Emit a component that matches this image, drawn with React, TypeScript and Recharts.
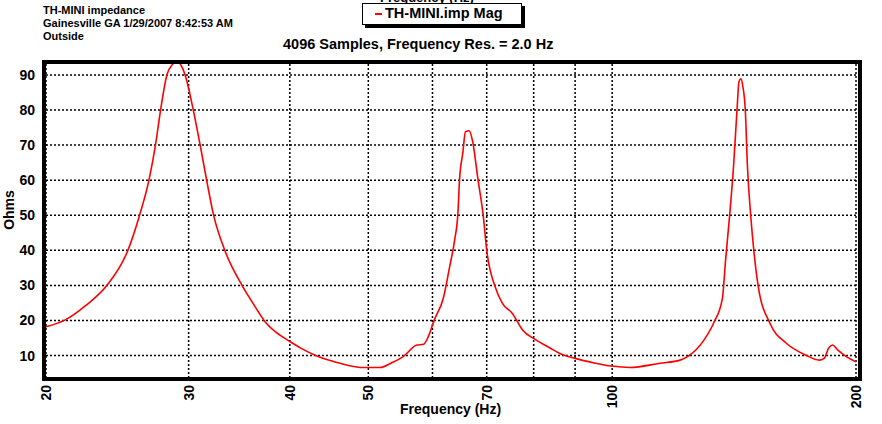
import React from "react";
import {
  LineChart,
  Line,
  XAxis,
  YAxis,
  CartesianGrid,
  ReferenceLine,
} from "recharts";

// impedance sweep (Hz -> ohms)
const freqs = [
  20.0, 21.1, 22.4, 23.8, 25.2, 26.1, 26.8, 27.3, 27.7, 28.2, 28.7, 29.0, 29.4,
  29.7, 30.4, 31.0, 31.6, 32.2, 33.3, 34.9, 36.0, 37.3, 38.9, 40.0, 41.2, 43.2,
  45.0, 47.0, 49.3, 51.7, 53.5, 55.2, 57.4, 58.5, 59.3, 60.3, 61.9, 63.0, 63.9,
  64.5, 64.8, 65.4, 65.9, 66.6, 67.2, 68.3, 69.3, 70.0, 71.7, 73.2, 75.3, 77.5,
  80.6, 83.9, 86.2, 90.0, 95.0, 99.8, 105.2, 114.5, 121.3, 124.3, 129.8, 133.4,
  136.8, 138.0, 139.6, 141.2, 142.6, 143.4, 144.2, 145.0, 146.0, 146.9, 148.3,
  149.7, 151.5, 156.6, 164.1, 173.5, 180.1, 182.7, 185.0, 187.1, 189.8, 194.6,
  200.0,
];
const ohms = [
  18.2, 20.1, 24.3, 30.1, 39.6, 50.1, 60.0, 70.0, 80.0, 90.0, 93.2, 94.0, 92.5,
  90.0, 80.0, 70.0, 59.6, 50.1, 39.6, 30.1, 25.0, 19.6, 15.8, 14.0, 12.2, 9.9,
  8.5, 7.3, 6.6, 6.6, 8.0, 9.7, 13.0, 13.2, 15.4, 20.1, 26.5, 35.3, 42.9, 50.6,
  60.1, 67.7, 73.8, 74.1, 71.5, 60.1, 50.1, 40.1, 29.6, 24.9, 22.0, 17.3, 14.4,
  12.1, 10.6, 9.2, 7.9, 7.0, 6.6, 7.8, 8.7, 9.9, 14.4, 19.2, 26.3, 36.8, 49.6,
  63.9, 80.0, 88.1, 88.9, 86.7, 80.0, 63.9, 49.6, 39.2, 29.6, 19.2, 13.5, 10.1,
  8.7, 9.2, 12.1, 13.0, 11.6, 9.7, 8.2,
];

const xTicks = [20, 30, 40, 50, 70, 100, 200];
const xGrid = [20, 30, 40, 50, 60, 70, 80, 90, 100, 200];
const yTicks = [10, 20, 30, 40, 50, 60, 70, 80, 90];

const data = freqs.map((f, i) => ({ f, mag: ohms[i] }));

const FONT = '"Liberation Sans", Arial, sans-serif';

const XTick = (props: any) => {
  const { x, y, payload } = props;
  return (
    <text
      x={x}
      y={y}
      transform={`rotate(-90, ${x}, ${y})`}
      textAnchor="end"
      dominantBaseline="central"
      fontFamily={FONT}
      fontWeight="bold"
      fontSize={14}
      fill="#000"
    >
      {payload.value}
    </text>
  );
};

export default function App() {
  return (
    <div
      style={{
        position: "absolute",
        left: 0,
        top: 0,
        width: 882,
        height: 424,
        background: "#fff",
        overflow: "hidden",
        fontFamily: FONT,
        color: "#000",
      }}
    >
      <LineChart
        width={882}
        height={424}
        data={data}
        margin={{ top: 62, right: 26, left: 6, bottom: 16 }}
      >
        <CartesianGrid
          vertical={false}
          stroke="#000"
          strokeWidth={1.5}
          strokeDasharray="2 2"
        />
        {xGrid.map((v) => (
          <ReferenceLine
            key={v}
            x={v}
            stroke="#000"
            strokeWidth={1.5}
            strokeDasharray="2 2"
          />
        ))}
        <XAxis
          dataKey="f"
          type="number"
          scale="log"
          domain={[20, 200]}
          ticks={xTicks}
          interval={0}
          axisLine={false}
          tickLine={false}
          tickMargin={1}
          height={30}
          tick={<XTick />}
        />
        <YAxis
          type="number"
          domain={[3.6, 93.7]}
          allowDataOverflow
          ticks={yTicks}
          interval={0}
          width={40}
          axisLine={false}
          tickLine={false}
          tickMargin={5}
          tick={{
            fill: "#000",
            fontSize: 14,
            fontWeight: "bold",
            fontFamily: FONT,
          }}
        />
        <Line
          type="monotone"
          dataKey="mag"
          stroke="#ff0000"
          strokeWidth={1.6}
          dot={false}
          isAnimationActive={false}
        />
      </LineChart>

      {/* plot frame */}
      <div
        style={{
          position: "absolute",
          left: 42,
          top: 60,
          width: 820,
          height: 321,
          border: "4px solid #000",
          boxSizing: "border-box",
          pointerEvents: "none",
        }}
      />

      <div
        style={{
          position: "absolute",
          left: 43,
          top: 4,
          fontSize: 11,
          lineHeight: "13px",
          fontWeight: "bold",
        }}
      >
        <div>TH-MINI impedance</div>
        <div>Gainesville GA 1/29/2007 8:42:53 AM</div>
        <div>Outside</div>
      </div>

      {/* axis caption that sits mostly behind the legend, cut at the top */}
      <div
        style={{
          position: "absolute",
          left: 380,
          top: -10,
          fontSize: 13,
          lineHeight: "15px",
          fontWeight: "bold",
        }}
      >
        Frequency (Hz)
      </div>

      <div
        style={{
          position: "absolute",
          left: 362,
          top: 3,
          width: 160,
          height: 22,
          border: "1.5px solid #000",
          boxSizing: "border-box",
          background: "#fff",
          boxShadow: "3px 3px 0 #000",
          fontSize: 14.5,
          fontWeight: "bold",
          lineHeight: "19px",
          whiteSpace: "nowrap",
        }}
      >
        <span
          style={{
            display: "inline-block",
            width: 7,
            height: 2,
            background: "#ff0000",
            verticalAlign: "middle",
            marginLeft: 12,
            marginRight: 3,
          }}
        />
        TH-MINI.imp Mag
      </div>

      <div
        style={{
          position: "absolute",
          left: 283,
          top: 37,
          fontSize: 14.5,
          lineHeight: "14.5px",
          fontWeight: "bold",
          whiteSpace: "nowrap",
        }}
      >
        4096 Samples, Frequency Res. = 2.0 Hz
      </div>

      <div
        style={{
          position: "absolute",
          left: 9,
          top: 210,
          transform: "translate(-50%, -50%) rotate(-90deg)",
          fontSize: 14,
          lineHeight: "14px",
          fontWeight: "bold",
        }}
      >
        Ohms
      </div>

      <div
        style={{
          position: "absolute",
          left: 400,
          width: 100,
          top: 402,
          textAlign: "center",
          fontSize: 14,
          lineHeight: "14px",
          fontWeight: "bold",
          whiteSpace: "nowrap",
        }}
      >
        Frequency (Hz)
      </div>
    </div>
  );
}
